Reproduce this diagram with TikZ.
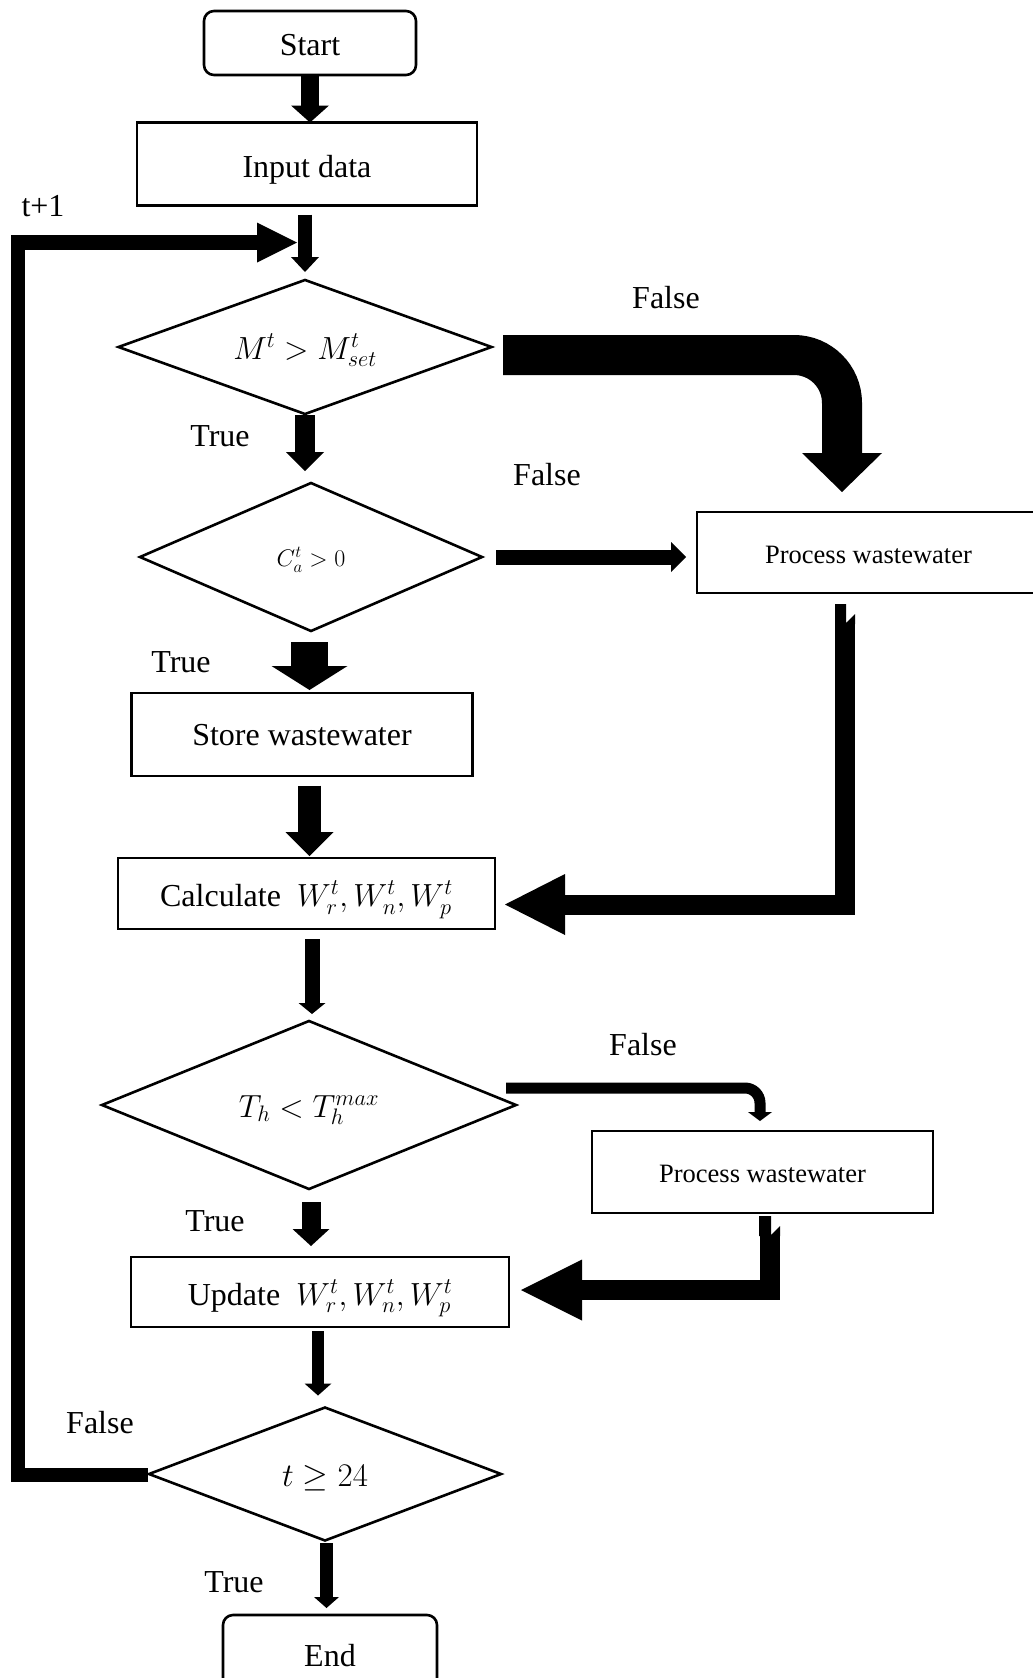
\RequirePackage{fix-cm}
\documentclass[tikz,border=0pt]{standalone}
\usepackage{fontspec}
\setmainfont{Liberation Serif}
\usetikzlibrary{arrows.meta,shapes.geometric,calc}

\tikzset{
  every node/.style={inner sep=0pt, outer sep=0pt},
  lbl/.style={font=\fontsize{32}{38}\selectfont},
  txt/.style={font=\fontsize{32}{38}\selectfont, text height=26pt, text depth=0pt},
  proc/.style 2 args={draw, line width=2.6pt, rectangle, minimum width=#1, minimum height=#2, txt},
  term/.style 2 args={proc={#1}{#2}, rounded corners=10pt},
  decision/.style n args={3}{draw, line width=2.6pt, diamond, minimum width=#1, minimum height=#2,
    shape aspect=#3, txt},
  small/.style={font=\fontsize{24}{28}\selectfont, text height=19pt},
  mid/.style={font=\fontsize{26.5}{31}\selectfont, text height=21.5pt},
  flow/.style n args={3}{line width=#1, line join=miter,
    -{Triangle[width=#2, length=#3, line width=0pt]}},
}

\begin{document}
\begin{tikzpicture}[x=1pt, y=-1pt]
\useasboundingbox (0,0) rectangle (1033,1678);

% boxes and decisions
\node[term={212pt}{64pt}] (start) at (310,43) {Start};
\node[proc={340pt}{83pt}] (input) at (307,164) {Input data};
\node[decision={373pt}{134pt}{2.78}, text height=24pt] (d1) at (305,347) {$M^t > M^t_{set}$};
\node[decision={342pt}{148pt}{2.31}, small] (d2) at (311,557) {$C_a^t > 0$};
\node[proc={343pt}{81pt}, mid] (pw1) at (868.5,552.5) {Process wastewater};
\node[proc={341pt}{83pt}, text height=22pt] (store) at (302,734.5) {Store wastewater};
\node[proc={377pt}{71pt}] (calc) at (306.5,893.5) {Calculate\ \ $W_r^t, W_n^t, W_p^t$};
\node[decision={414pt}{168pt}{2.46}, text height=24pt] (d3) at (309,1105) {$T_h < T_h^{max}$};
\node[proc={341pt}{82pt}, mid] (pw2) at (762.5,1172) {Process wastewater};
\node[proc={378pt}{70pt}] (update) at (320,1292) {Update\ \ $W_r^t, W_n^t, W_p^t$};
\node[decision={352pt}{133pt}{2.65}, font=\fontsize{33}{38}\selectfont, text height=24pt] (d4) at (325,1474) {$t \geq 24$};
\node[term={214pt}{80pt}, text height=22pt] (end) at (330,1655) {End};

% branch labels
\node[lbl] (tnext) at (43,206) {t+1};
\node[lbl] (true1) at (220,436) {True};
\node[lbl] (false1) at (666,298) {False};
\node[lbl] (false2) at (547,475) {False};
\node[lbl] (true2) at (181,662) {True};
\node[lbl] (false3) at (643,1045) {False};
\node[lbl] (true3) at (215,1221) {True};
\node[lbl] (false4) at (100,1423) {False};
\node[lbl] (true4) at (234,1582) {True};

% main flow
\draw[flow={18pt}{38pt}{17pt}] (start.south) -- (start.south |- input.north);
\draw[flow={14pt}{28pt}{15pt}] ($(input.south)+(-2,9)$) -- ($(d1.north)+(0,-8)$);
\draw[flow={20pt}{38pt}{19pt}] ($(d1.south)+(0,1)$) -- ($(d1.south |- d2.north)+(0,-12)$);
\draw[flow={37pt}{76pt}{24pt}] ($(d2.south)+(-1.5,11)$) -- ($(d2.south |- store.north)+(-1.5,-3)$);
\draw[flow={23pt}{48pt}{24pt}] ($(store.south)+(7.5,9.5)$) -- ($(store.south |- calc.north)+(7.5,-2)$);
\draw[flow={15pt}{27pt}{11pt}] ($(calc.south)+(5.5,10)$) -- ($(calc.south |- d3.north)+(5.5,-7)$);
\draw[flow={19pt}{37pt}{17pt}] ($(d3.south)+(2,13)$) -- ($(d3.south |- update.north)+(2,-11)$);
\draw[flow={12.5pt}{27pt}{12pt}] ($(update.south)+(-2,4)$) -- ($(update.south |- d4.north)+(-2,-12)$);
\draw[flow={13pt}{25pt}{11pt}] ($(d4.south)+(1.5,2.5)$) -- ($(d4.south |- end.north)+(1.5,-7)$);

% first test false: wide bent arrow
\coordinate (b0) at ($(d1.east)+(11.5,8)$);
\coordinate (b1) at ($(pw1.north)+(-26.5,-20)$);
\draw[flow={40pt}{80pt}{39pt}, rounded corners=48pt] (b0) -- (b0 -| b1) -- (b1);

% second test false
\draw[flow={15pt}{30pt}{15pt}] ($(d2.east)+(14,0)$) -- ($(d2.east -| pw1.west)+(-11,0)$);

% return from first processing step
\coordinate (r0) at ($(pw1.south)+(-23.5,30)$);
\coordinate (r1) at ($(calc.east)+(10,11)$);
\fill ($(r0)+(-10,-19)$) -- ++(11,0) -- ++(0,19) -- ++(9,-9) -- ++(0,10) -- ++(-20,0) -- cycle;
\draw[flow={20pt}{61pt}{60pt}] (r0) -- (r0 |- r1) -- (r1);

% temperature test false
\coordinate (f0) at ($(d3.east)+(-10,-17)$);
\coordinate (f1) at ($(pw2.north)+(-2.5,-10)$);
\draw[flow={11pt}{24pt}{9pt}, rounded corners=15pt] (f0) -- (f0 -| f1) -- (f1);

% return from second processing step
\coordinate (s0) at ($(pw2.south)+(7,22)$);
\coordinate (s1) at ($(update.east)+(12,-2)$);
\fill ($(s0)+(-10.5,-19)$) -- ++(12,0) -- ++(0,19) -- ++(9,-9) -- ++(0,10) -- ++(-21,0) -- cycle;
\draw[flow={20pt}{61pt}{61pt}] (s0) -- (s0 |- s1) -- (s1);

% time loop back to the first test
\coordinate (loopin) at ($(d1.north)+(-8,-37.5)$);
\coordinate (loopx) at (18,0);
\coordinate (l0) at ($(d4.west)+(-1,1)$);
\draw[flow={14.5pt}{40pt}{40pt}] (l0) -- (l0 -| loopx) -- (loopx |- loopin) -- (loopin);
\end{tikzpicture}
\end{document}
